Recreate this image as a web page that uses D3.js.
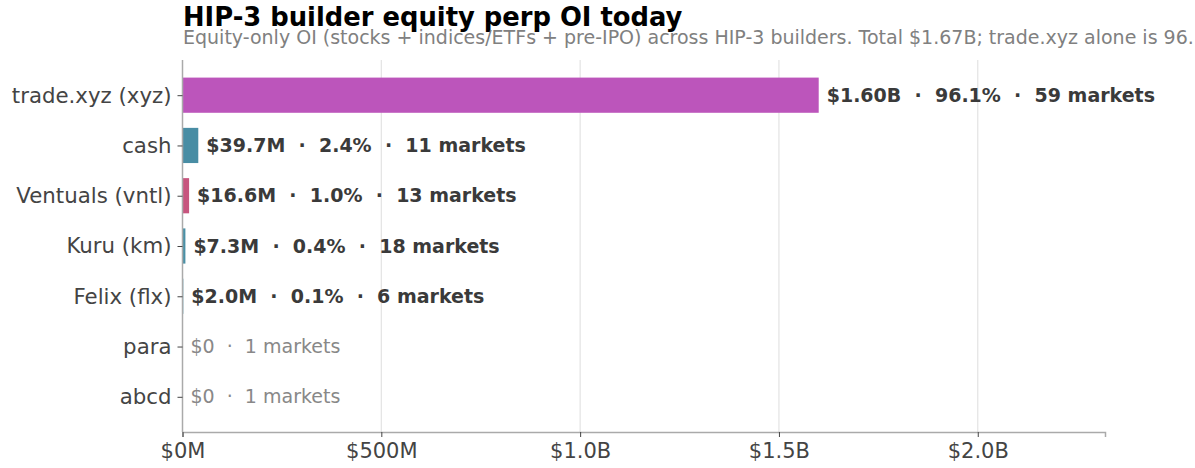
<!DOCTYPE html>
<html>
<head>
<meta charset="utf-8">
<script src="https://cdn.jsdelivr.net/npm/d3@7"></script>
<style>
  body { margin: 0; background: #fff; }
  svg { display: block; font-family: "DejaVu Sans", sans-serif; }
  text { white-space: pre; }
</style>
</head>
<body>
<div class="canvas"></div>
<script>
// data
const builders = ["trade.xyz (xyz)", "cash", "Ventuals (vntl)", "Kuru (km)", "Felix (flx)", "para", "abcd"];
const oiValues = [1.60e9, 39.7e6, 16.6e6, 7.3e6, 2.0e6, 0, 0];
const oiLabels = ["$1.60B", "$39.7M", "$16.6M", "$7.3M", "$2.0M", "$0", "$0"];
const shares = ["96.1%", "2.4%", "1.0%", "0.4%", "0.1%", null, null];
const marketCounts = [59, 11, 13, 18, 6, 1, 1];
const barColors = ["#bc55bb", "#488da4", "#c7557e", "#4a90a6", "#4a90a6", "#4a90a6", "#4a90a6"];
const xTicks = [0, 0.5e9, 1.0e9, 1.5e9, 2.0e9];
const xTickLabels = ["$0M", "$500M", "$1.0B", "$1.5B", "$2.0B"];

// margins and dimensions
const w = 1195;
const h = 468;
const margin = { top: 60, right: 90, bottom: 36, left: 182.5 };
const graphWidth = w - margin.left - margin.right;
const graphHeight = h - margin.top - margin.bottom;

const svg = d3.select(".canvas").append("svg").attr("width", w).attr("height", h);

// title + subtitle (subtitle runs off the right edge, as in the source)
svg.append("text")
  .attr("x", 183).attr("y", 26)
  .attr("font-size", 25.8).attr("font-weight", "bold").attr("fill", "#000")
  .text("HIP-3 builder equity perp OI today");
svg.append("text")
  .attr("x", 183).attr("y", 44)
  .attr("font-size", 19).attr("fill", "#808080")
  .text("Equity-only OI (stocks + indices/ETFs + pre-IPO) across HIP-3 builders. Total $1.67B; trade.xyz alone is 96.1%.");

const graph = svg.append("g")
  .attr("transform", `translate(${margin.left}, ${margin.top})`);

const x = d3.scaleLinear().domain([0, 2.32e9]).range([0, graphWidth]);
// ylim roughly [-0.7, 6.7] in bar units
const y = d3.scaleLinear().domain([-0.7, builders.length - 1 + 0.7]).range([0, graphHeight]);
const bandPx = y(1) - y(0);
const barH = bandPx * 0.7;

// gridlines
graph.selectAll("line.grid")
  .data(xTicks.slice(1))
  .enter()
  .append("line")
  .attr("class", "grid")
  .attr("x1", d => x(d)).attr("x2", d => x(d))
  .attr("y1", 0).attr("y2", graphHeight)
  .attr("stroke", "#e3e3e3").attr("stroke-width", 1.2);

// bars
graph.selectAll("rect.bar")
  .data(builders)
  .enter()
  .append("rect")
  .attr("class", "bar")
  .attr("x", 0)
  .attr("y", (d, i) => y(i) - barH / 2)
  .attr("width", (d, i) => x(oiValues[i]))
  .attr("height", barH)
  .attr("fill", (d, i) => barColors[i]);

// value labels
graph.selectAll("text.val")
  .data(builders)
  .enter()
  .append("text")
  .attr("class", "val")
  .attr("x", (d, i) => x(oiValues[i]) + 8)
  .attr("y", (d, i) => y(i))
  .attr("dy", "0.35em")
  .attr("font-size", 19)
  .attr("font-weight", (d, i) => oiValues[i] > 0 ? "bold" : "normal")
  .attr("fill", (d, i) => oiValues[i] > 0 ? "#3a3a3a" : "#888")
  .text((d, i) => shares[i]
    ? `${oiLabels[i]}  ·  ${shares[i]}  ·  ${marketCounts[i]} markets`
    : `${oiLabels[i]}  ·  ${marketCounts[i]} markets`);

// x axis
const xAxis = d3.axisBottom(x)
  .tickValues(xTicks)
  .tickFormat((d, i) => xTickLabels[i])
  .tickSize(5)
  .tickPadding(6);
const gx = graph.append("g")
  .attr("transform", `translate(0, ${graphHeight})`)
  .call(xAxis);
gx.select(".domain").attr("stroke", "#aaa").attr("stroke-width", 1.5);
gx.selectAll(".tick line").attr("stroke", "#444");
gx.selectAll(".tick text").attr("font-size", 21).attr("fill", "#444").attr("font-family", "DejaVu Sans");

// y axis
const yAxis = d3.axisLeft(y)
  .tickValues(d3.range(builders.length))
  .tickFormat(i => builders[i])
  .tickSize(5)
  .tickPadding(6);
const gy = graph.append("g").call(yAxis);
gy.select(".domain").attr("stroke", "#aaa").attr("stroke-width", 1.5).attr("d", `M0,0V${graphHeight}`);
gy.selectAll(".tick line").attr("stroke", "#444");
gy.selectAll(".tick text").attr("font-size", 21.3).attr("fill", "#444").attr("font-family", "DejaVu Sans");
</script>
</body>
</html>
